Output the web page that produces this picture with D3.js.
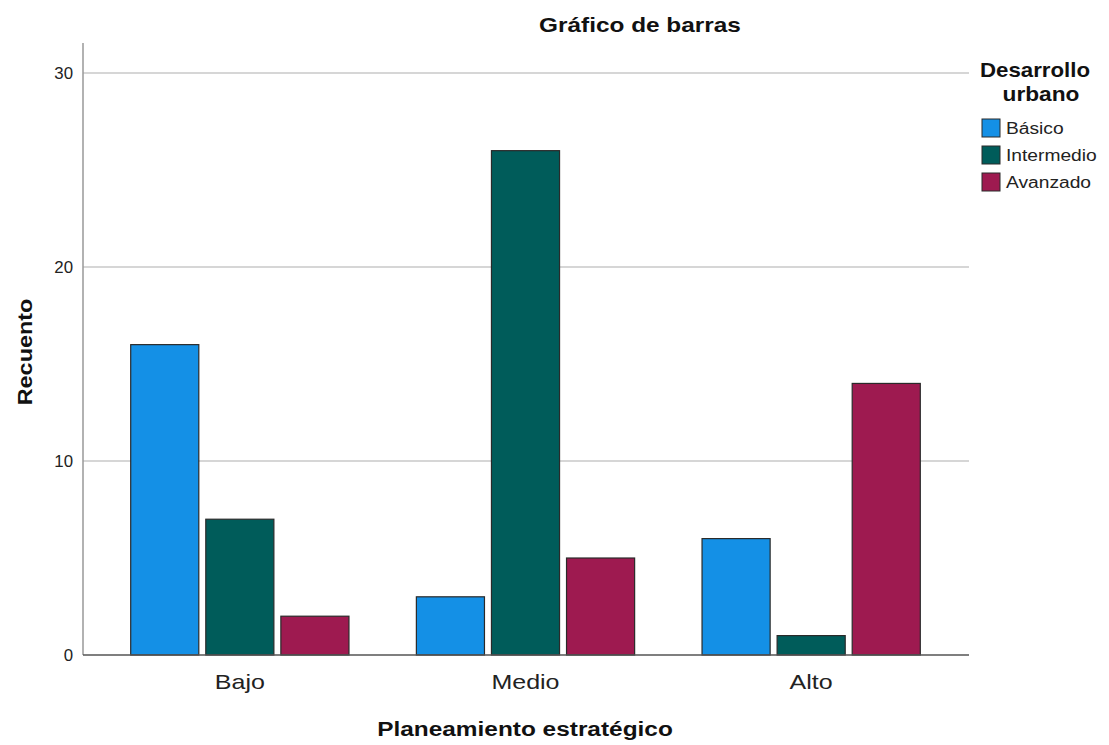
<!DOCTYPE html>
<html>
<head>
<meta charset="utf-8">
<script src="https://cdn.jsdelivr.net/npm/d3@7"></script>
<style>
  body{margin:0;background:#fff;}
  text{font-family:"Liberation Sans",Arial,sans-serif;fill:#111;}
</style>
</head>
<body>
<svg id="chart" width="1109" height="745"></svg>
<script>
// data
var categories = ["Bajo","Medio","Alto"];
var seriesNames = ["Básico","Intermedio","Avanzado"];
var basico = [16,3,6];
var intermedio = [7,26,1];
var avanzado = [2,5,14];
var yTicks = [0,10,20,30];
var colors = ["#1490e6","#005c5a","#9e1a50"];

(function(){
var svg = d3.select("#chart");
var pLeft = 83, pRight = 969, pTop = 43, pBottom = 655;

var y = d3.scaleLinear().domain([0,31.55]).range([pBottom,pTop]);
var x0 = d3.scaleBand().domain(categories).range([97,954]).paddingInner(0.236).paddingOuter(0.118);
var x1 = d3.scaleBand().domain(seriesNames).range([0,x0.bandwidth()]).paddingInner(0.093);

// SPSS text renders wider than Arial, stretch it a bit
function stretch(sel, f){
  sel.each(function(){
    var w = this.getComputedTextLength();
    d3.select(this).attr("textLength", w*f).attr("lengthAdjust","spacingAndGlyphs");
  });
}

// gridlines
svg.append("g").selectAll("line")
  .data(yTicks.filter(function(d){return d>0;}))
  .enter().append("line")
  .attr("x1",pLeft).attr("x2",pRight)
  .attr("y1",function(d){return y(d);}).attr("y2",function(d){return y(d);})
  .attr("stroke","#c8c8c8").attr("stroke-width",1.5);

// y tick labels
svg.append("g").selectAll("text")
  .data(yTicks).enter().append("text")
  .attr("x",pLeft-10).attr("y",function(d){return y(d);})
  .attr("dy","0.35em").attr("text-anchor","end")
  .style("font-size","16px").style("fill","#222")
  .text(function(d){return d;})
  .call(stretch,1.05);

// bars
var rows = categories.map(function(c,i){
  return {cat:c, vals:[basico[i],intermedio[i],avanzado[i]]};
});
var groups = svg.append("g").selectAll("g")
  .data(rows).enter().append("g")
  .attr("transform",function(d){return "translate("+x0(d.cat)+",0)";});
groups.selectAll("rect")
  .data(function(d){return d.vals.map(function(v,j){return {s:seriesNames[j],v:v,j:j};});})
  .enter().append("rect")
  .attr("x",function(d){return x1(d.s);})
  .attr("y",function(d){return y(d.v);})
  .attr("width",x1.bandwidth())
  .attr("height",function(d){return pBottom-y(d.v);})
  .attr("fill",function(d){return colors[d.j];})
  .attr("stroke","#2a2a2a").attr("stroke-width",1.2);

// axes lines
svg.append("line").attr("x1",pLeft).attr("x2",pLeft).attr("y1",pTop).attr("y2",pBottom)
  .attr("stroke","#999").attr("stroke-width",1.5);
svg.append("line").attr("x1",pLeft).attr("x2",pRight).attr("y1",pBottom).attr("y2",pBottom)
  .attr("stroke","#555").attr("stroke-width",1.5);

// category labels
svg.append("g").selectAll("text")
  .data(categories).enter().append("text")
  .attr("x",function(d){return x0(d)+x0.bandwidth()/2;})
  .attr("y",pBottom+34).attr("text-anchor","middle")
  .style("font-size","21px").style("fill","#222")
  .text(function(d){return d;})
  .call(stretch,1.19);

// titles
svg.append("text").attr("x",640).attr("y",32).attr("text-anchor","middle")
  .style("font-size","21px").style("font-weight","bold").text("Gráfico de barras")
  .call(stretch,1.16);
svg.append("text").attr("x",525).attr("y",736).attr("text-anchor","middle")
  .style("font-size","20px").style("font-weight","bold").text("Planeamiento estratégico")
  .call(stretch,1.22);
svg.append("text").attr("transform","translate(32,352) rotate(-90)").attr("text-anchor","middle")
  .style("font-size","20px").style("font-weight","bold").text("Recuento")
  .call(stretch,1.17);

// legend
var lg = svg.append("g");
lg.append("text").attr("x",1035).attr("y",77).attr("text-anchor","middle")
  .style("font-size","21px").style("font-weight","bold").text("Desarrollo")
  .call(stretch,1.06);
lg.append("text").attr("x",1041).attr("y",101).attr("text-anchor","middle")
  .style("font-size","21px").style("font-weight","bold").text("urbano")
  .call(stretch,1.08);
var items = lg.selectAll("g.item").data(seriesNames).enter().append("g")
  .attr("transform",function(d,i){return "translate(982,"+(119+i*27)+")";});
items.append("rect").attr("width",18).attr("height",18)
  .attr("fill",function(d,i){return colors[i];})
  .attr("stroke","#2a2a2a").attr("stroke-width",1);
items.append("text").attr("x",24).attr("y",9).attr("dy","0.36em")
  .style("font-size","16px").style("fill","#222").text(function(d){return d;})
  .call(stretch,1.2);
})();
</script>
</body>
</html>
